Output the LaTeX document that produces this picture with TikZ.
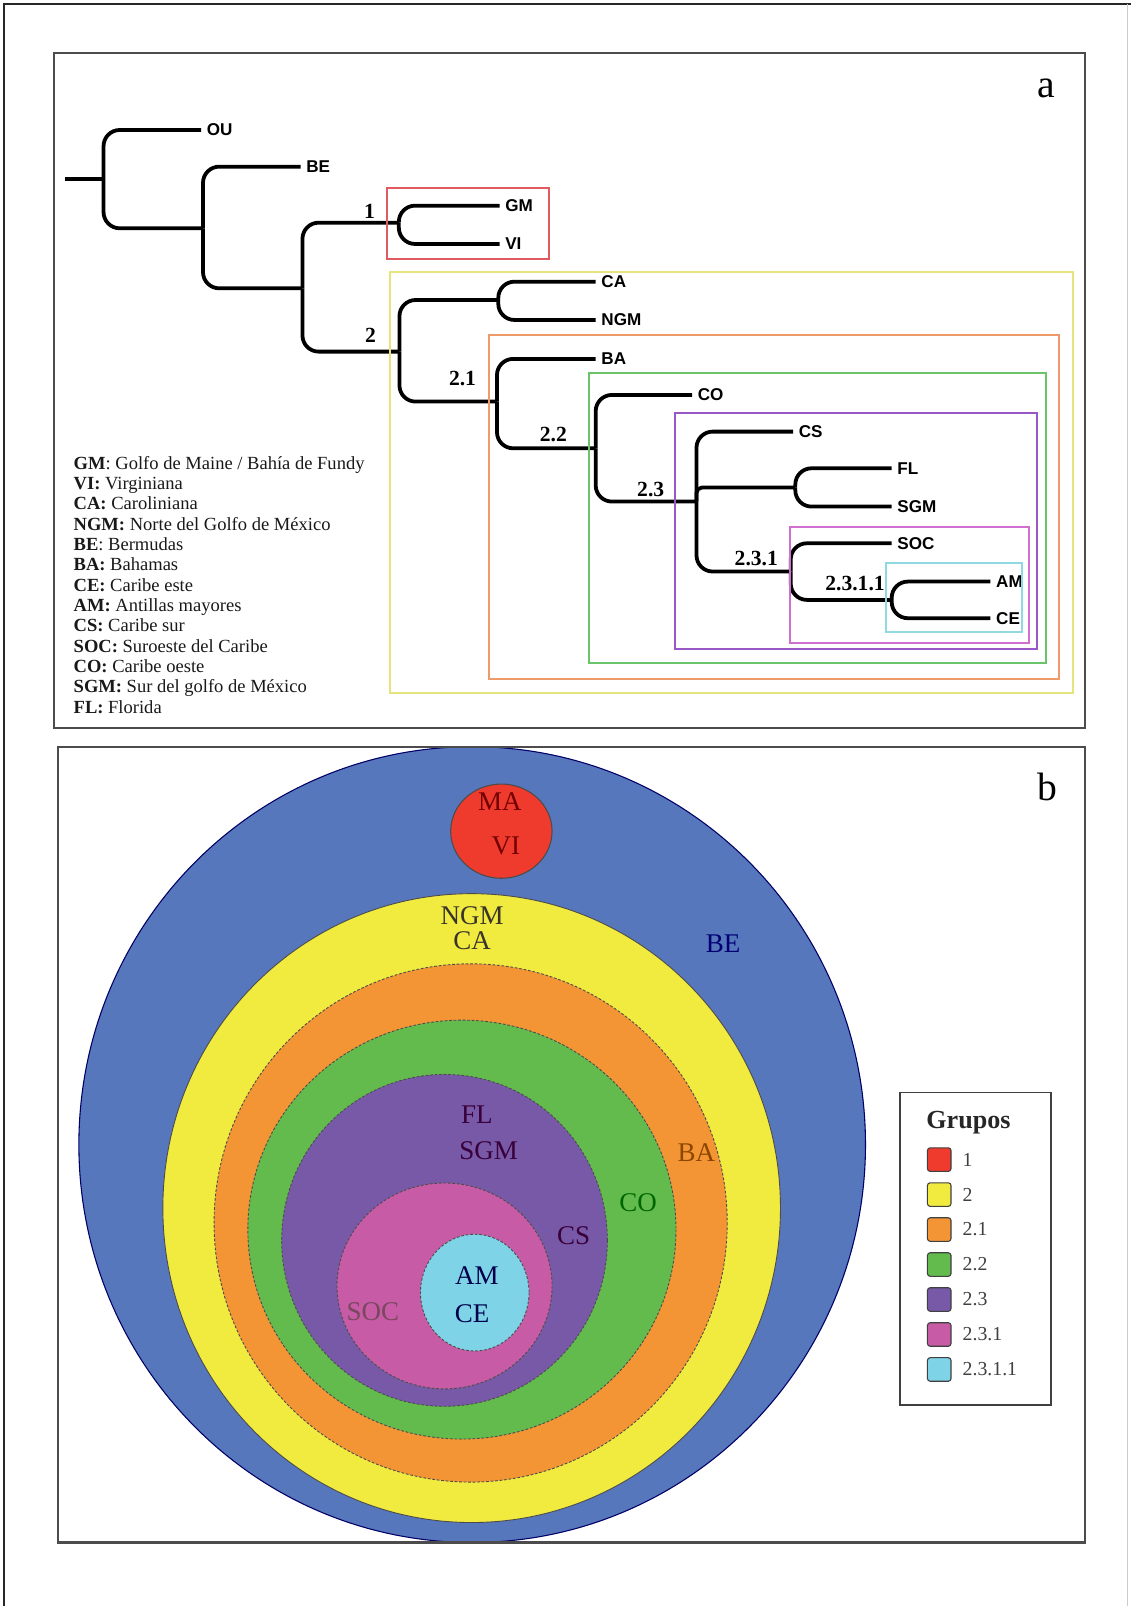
\documentclass[tikz,border=0pt]{standalone}
\usepackage{fontspec}
\setmainfont{Liberation Serif}
\setsansfont{Liberation Sans}
\usetikzlibrary{positioning}

\definecolor{beblue}{HTML}{5677BC}
\definecolor{gred}{HTML}{EE3B2E}
\definecolor{gyellow}{HTML}{F1EA3F}
\definecolor{gorange}{HTML}{F39534}
\definecolor{ggreen}{HTML}{63BB4D}
\definecolor{gpurple}{HTML}{7759A7}
\definecolor{gmagenta}{HTML}{C75BA5}
\definecolor{gcyan}{HTML}{7ED4E6}
\definecolor{bred}{HTML}{E05A5F}
\definecolor{byellow}{HTML}{E6E47C}
\definecolor{borange}{HTML}{EE9A6A}
\definecolor{bgreen}{HTML}{6CC46A}
\definecolor{bpurple}{HTML}{9A58C6}
\definecolor{bmagenta}{HTML}{CF6FCF}
\definecolor{bcyan}{HTML}{90D8E2}

\begin{document}
\begin{tikzpicture}[x=0.02cm, y=-0.02cm,
    branch/.style={line width=2.1pt, rounded corners=9pt},
    leaf/.style={anchor=west, inner xsep=3pt, inner ysep=0pt, font=\sffamily\bfseries\fontsize{9.5}{10}\selectfont},
    grp/.style={inner sep=0pt, font=\bfseries\fontsize{12}{12}\selectfont},
    clade/.style={line width=1.1pt},
    zone/.style={draw=black!70, line width=0.5pt, dash pattern=on 1.5pt off 1pt},
    ring/.style={inner sep=0pt, font=\fontsize{15}{15}\selectfont},
    key/.style={draw=black!75, line width=0.6pt, rounded corners=1.5pt, minimum size=0.46cm, inner sep=0pt},
    keytxt/.style={inner sep=0pt, text=black!75, font=\fontsize{11}{11}\selectfont},
    panel/.style={draw=black!70, line width=1.2pt}]
    \useasboundingbox (0,0) rectangle (1104,1568);
    \draw[line width=1.4pt, black!85] (4,1568) -- (4,4) -- (1104,4);
    \draw[line width=0.8pt, black!20] (1101,4) -- (1101,1568);

    % panel a
    \draw[panel] (53,52) rectangle (1059,711);
    \node[font=\fontsize{22}{22}\selectfont, inner sep=0pt] (pa) at (1021.7,86.2) {a};

    \coordinate (root) at (63.7,174.9);
    \coordinate (r0) at (101.1,174.9);
    \coordinate (r1) at (198.2,222.9);
    \coordinate (r2) at (295.3,281.5);
    \coordinate (c1) at (389.4,217.4);
    \coordinate (c2) at (390,343.3);
    \coordinate (cca) at (486.5,292.9);
    \coordinate (c21) at (485.2,392.1);
    \coordinate (c22) at (581.6,437.7);
    \coordinate (c23) at (680,489.7);
    \coordinate (cfl) at (776.5,476);
    \coordinate (c231) at (772,558);
    \coordinate (c2311) at (870.6,585.7);

    \node[leaf] (OU) at (196.3,126.9) {OU};
    \node[leaf] (BE) at (293.5,162.7) {BE};
    \node[leaf] (GM) at (487.7,200.8) {GM};
    \node[leaf] (VI) at (487.7,238.2) {VI};
    \node[leaf] (CA) at (581.6,275) {CA};
    \node[leaf] (NGM) at (581.6,312.4) {NGM};
    \node[leaf] (BA) at (581.6,350.4) {BA};
    \node[leaf] (CO) at (675.7,385.6) {CO};
    \node[leaf] (CS) at (774.3,421.4) {CS};
    \node[leaf] (FL) at (870.6,457.2) {FL};
    \node[leaf] (SGM) at (870.6,494.6) {SGM};
    \node[leaf] (SOC) at (870.6,530.4) {SOC};
    \node[leaf] (AM) at (967,567.8) {AM};
    \node[leaf] (CE) at (967,603.6) {CE};

    \draw[branch] (root) -- (r0);
    \draw[branch] (r0) |- (OU.west);
    \draw[branch] (r0) |- (r1);
    \draw[branch] (r1) |- (BE.west);
    \draw[branch] (r1) |- (r2);
    \draw[branch] (r2) |- (c1);
    \draw[branch] (r2) |- (c2);
    \draw[branch] (c1) |- (GM.west);
    \draw[branch] (c1) |- (VI.west);
    \draw[branch] (c2) |- (cca);
    \draw[branch] (c2) |- (c21);
    \draw[branch] (cca) |- (CA.west);
    \draw[branch] (cca) |- (NGM.west);
    \draw[branch] (c21) |- (BA.west);
    \draw[branch] (c21) |- (c22);
    \draw[branch] (c22) |- (CO.west);
    \draw[branch] (c22) |- (c23);
    \draw[branch] (c23) |- (CS.west);
    \draw[branch, rounded corners=3pt] (c23) |- (cfl);
    \draw[branch] (c23) |- (c231);
    \draw[branch] (cfl) |- (FL.west);
    \draw[branch] (cfl) |- (SGM.west);
    \draw[branch] (c231) |- (SOC.west);
    \draw[branch] (c231) |- (c2311);
    \draw[branch] (c2311) |- (AM.west);
    \draw[branch] (c2311) |- (CE.west);

    \node[grp] (g1) at (360.7,206.6) {1};
    \node[grp] (g2) at (361.8,327) {2};
    \node[grp] (g21) at (451.6,369.3) {2.1};
    \node[grp] (g22) at (540.3,424.6) {2.2};
    \node[grp] (g23) at (635.3,478.3) {2.3};
    \node[grp] (g231) at (738.4,545) {2.3.1};
    \node[grp] (g2311) at (834.8,569.4) {2.3.1.1};

    \draw[clade, draw=bred] (378.2,183.8) rectangle (536.2,252.8);
    \draw[clade, draw=byellow] (380.8,265.2) rectangle (1047.7,676.8);
    \draw[clade, draw=borange] (477.6,327) rectangle (1034.2,663.1);
    \draw[clade, draw=bgreen] (574.8,363.8) rectangle (1021.7,647.5);
    \draw[clade, draw=bpurple] (659.1,403.5) rectangle (1012.7,633.9);
    \draw[clade, draw=bmagenta] (771.1,514.1) rectangle (1005.1,627.4);
    \draw[clade, draw=bcyan] (864.8,549.9) rectangle (997.5,616.6);

    \node[anchor=north west, inner sep=0pt, align=left, text=black!90,
          font=\fontsize{10.3}{11.3}\selectfont] (abbr) at (71.6,445) {%
        \textbf{GM}: Golfo de Maine / Bahía de Fundy\\
        \textbf{VI:} Virginiana\\
        \textbf{CA:} Caroliniana\\
        \textbf{NGM:} Norte del Golfo de México\\
        \textbf{BE}: Bermudas\\
        \textbf{BA:} Bahamas\\
        \textbf{CE:} Caribe este\\
        \textbf{AM:} Antillas mayores\\
        \textbf{CS:} Caribe sur\\
        \textbf{SOC:} Suroeste del Caribe\\
        \textbf{CO:} Caribe oeste\\
        \textbf{SGM:} Sur del golfo de México\\
        \textbf{FL:} Florida};

    % panel b
    \draw[fill=beblue, draw=black!60!blue, line width=0.6pt] (461,1117.5) ellipse [x radius=384, y radius=388.5];
    \draw[fill=gred, draw=black!70, line width=0.6pt] (489.5,811.5) ellipse [x radius=49.5, y radius=46];
    \draw[fill=gyellow, draw=black!70, line width=0.5pt] (460.5,1179.5) ellipse [x radius=301.5, y radius=307];
    \draw[zone, fill=gorange] (459.5,1194) ellipse [x radius=250.5, y radius=253];
    \draw[zone, fill=ggreen] (451,1200.5) ellipse [x radius=209, y radius=204.5];
    \draw[zone, fill=gpurple] (434,1211) ellipse [x radius=159, y radius=162];
    \draw[zone, fill=gmagenta] (434,1255.5) ellipse [x radius=105, y radius=100.5];
    \draw[zone, fill=gcyan] (463.5,1262) ellipse [x radius=53, y radius=57];

    \node[ring, text=red!45!black] (MA) at (488,783) {MA};
    \node[ring, text=red!45!black] (VIb) at (494,826) {VI};
    \node[ring, text=black!80!olive] (NGMb) at (461,894) {NGM};
    \node[ring, text=black!80!olive] (CAb) at (461,918) {CA};
    \node[ring, text=blue!45!black] (BEb) at (706,921) {BE};
    \node[ring, text=orange!55!black] (BAb) at (680,1125) {BA};
    \node[ring, text=green!40!black] (COb) at (623,1174) {CO};
    \node[ring, text=violet!45!black] (FLb) at (465.5,1088) {FL};
    \node[ring, text=violet!45!black] (SGMb) at (477,1123) {SGM};
    \node[ring, text=violet!45!black] (CSb) at (560,1206) {CS};
    \node[ring, text=magenta!40!black] (SOCb) at (364,1281) {SOC};
    \node[ring, text=blue!30!black] (AMb) at (465.5,1245) {AM};
    \node[ring, text=blue!30!black] (CEb) at (461,1283) {CE};

    \draw[panel] (57,729) rectangle (1059,1506);
    \node[font=\fontsize{22}{22}\selectfont, inner sep=0pt] (pb) at (1023,768) {b};

    \draw[line width=0.9pt, draw=black!75] (878.5,1066.5) rectangle (1026,1372);
    \node[anchor=base, inner sep=0pt, text=black!85, font=\bfseries\fontsize{14.5}{14.5}\selectfont] (grupos) at (945.5,1101.5) {Grupos};
    \foreach \c/\lab [count=\i] in {gred/1, gyellow/2, gorange/2.1, ggreen/2.2, gpurple/2.3, gmagenta/2.3.1, gcyan/2.3.1.1} {
        \node[key, fill=\c] (k\i) at (917,1098+34.15*\i) {};
        \node[keytxt, right=0.21cm of k\i] (kt\i) {\lab};
    }
\end{tikzpicture}
\end{document}
